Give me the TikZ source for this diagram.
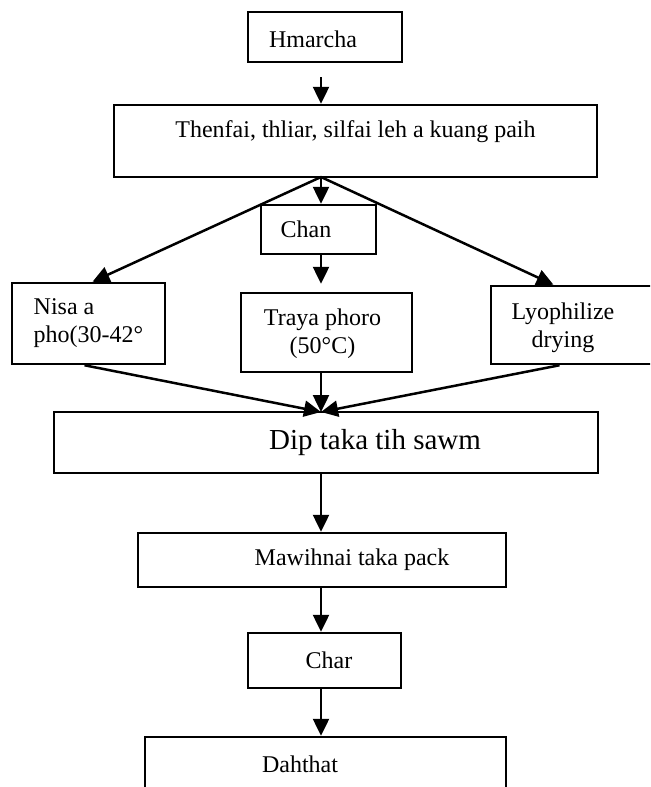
\documentclass[tikz,border=0pt]{standalone}
\usepackage{fontspec}
\setmainfont{Liberation Serif}
\usetikzlibrary{arrows.meta,positioning,calc}

\tikzset{
	box/.style={draw, line width=1.25pt, inner sep=0pt},
	arr/.style={-{Triangle[length=8.5pt,width=8pt]}, line width=1.25pt},
}

\begin{document}
\begin{tikzpicture}[x=0.5pt, y=-0.5pt, font=\fontsize{12}{14}\selectfont]
	\useasboundingbox (0,0) rectangle (650,787);
	\clip (0,0) rectangle (650,787);

	% top part
	\node[box, minimum width=77pt, minimum height=25pt,
		label={[xshift=-6pt,yshift=-1pt]center:Hmarcha}] (hm) at (325,37) {};
	\node[box, minimum width=241.5pt, minimum height=36pt,
		label={[yshift=4.5pt]center:{Thenfai, thliar, silfai leh a kuang paih}}] (then) at (355.5,141) {};
	\node[box, minimum width=57.5pt, minimum height=24.5pt,
		label={[xshift=-6.25pt]center:Chan}] (chan) at (318.5,229.5) {};

	% drying
	\node[box, minimum width=76.5pt, minimum height=40.5pt, align=left] (nisa) at (88.5,323.5) {Nisa a\\pho(30-42°};
	\node[box, minimum width=85.5pt, minimum height=39.5pt,
		label={[align=center,xshift=-2pt,yshift=-0.75pt]center:Traya phoro\\(50°C)}] (traya) at (326.5,332.5) {};
	\node[box, minimum width=84.5pt, minimum height=39pt,
		label={[align=center,xshift=-6.25pt,yshift=-1.25pt]center:Lyophilize\\drying}] (lyo) at (575.5,325) {};

	% bottom part
	\node[box, minimum width=272pt, minimum height=30.5pt,
		label={[xshift=24.5pt,font=\fontsize{14.5}{17}\selectfont]center:Dip taka tih sawm}] (dip) at (326,442.5) {};
	\node[box, minimum width=184pt, minimum height=27pt,
		label={[xshift=15pt]center:Mawihnai taka pack}] (maw) at (322,560) {};
	\node[box, minimum width=76.5pt, minimum height=27.5pt,
		label={[xshift=2.25pt]center:Char}] (char) at (324.5,660.5) {};
	\node[box, minimum width=180.5pt, minimum height=40pt,
		label={[xshift=-12.75pt,yshift=6.5pt]center:Dahthat}] (dah) at (325.5,777) {};

	\coordinate (apex) at (321,177);
	\coordinate (meet) at (321,412);

	% arrows
	\draw[arr] ([yshift=-7pt]hm.south -| apex) -- (then.north -| apex);
	\draw[arr] (apex) -- (apex |- chan.north);
	\draw[arr] (apex) -- ([xshift=2pt]nisa.north);
	\draw[arr] (apex) -- ([xshift=-11pt]lyo.north);
	\draw[arr] (chan.south -| apex) -- ([yshift=4pt]traya.north -| apex);

	\draw[arr] ([xshift=-2pt]nisa.south) -- (meet);
	\draw[arr] ([xshift=-8pt]lyo.south) -- (meet);
	\draw[arr] (traya.south -| meet) -- (meet);

	\draw[arr] (dip.south -| meet) -- (maw.north -| meet);
	\draw[arr] (maw.south -| meet) -- (char.north -| meet);
	\draw[arr] (char.south -| meet) -- (dah.north -| meet);
\end{tikzpicture}
\end{document}
